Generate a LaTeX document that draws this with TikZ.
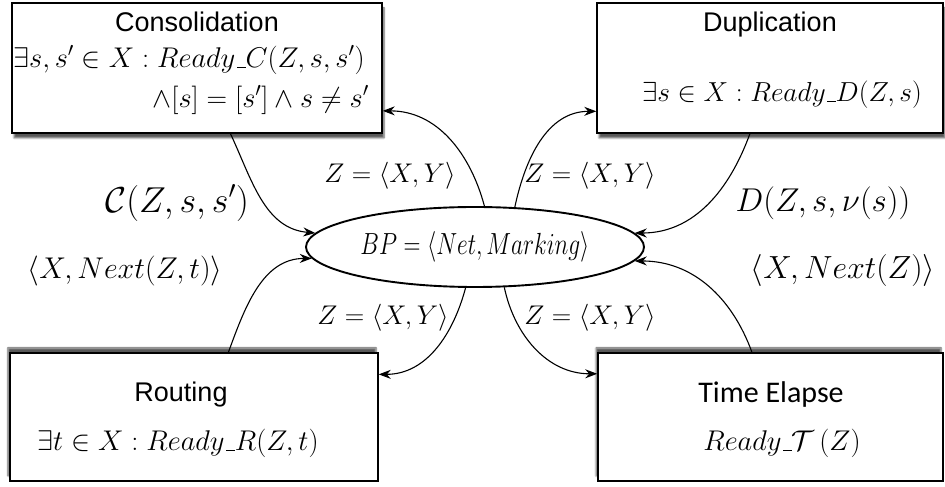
\RequirePackage{fix-cm}
\documentclass[tikz,border=0pt]{standalone}
\usepackage{graphicx}
\usepackage{fontspec}
\usepackage{amssymb}
\newfontfamily\helv{Liberation Sans}
\newfontfamily\carl{Carlito}
\newcommand{\uscore}{\kern.06em\vbox{\hrule width.3em}}
\usetikzlibrary{arrows.meta,shapes.geometric,shadows.blur}
\tikzset{
 box/.style={draw, line width=1.5pt, fill=white, inner sep=0pt},
 topshadow/.style={blur shadow={shadow xshift=2pt, shadow yshift=-5pt, shadow blur steps=6, shadow opacity=65}},
 botshadow/.style={blur shadow={shadow xshift=-2pt, shadow yshift=5pt, shadow blur steps=6, shadow opacity=65}},
 title/.style={font=\helv\fontsize{27}{32}\selectfont, inner sep=0pt},
 cond/.style={font=\fontsize{28.5}{34}\selectfont, inner sep=0pt},
 biglab/.style={inner sep=0pt},
 zlab/.style={font=\fontsize{27}{32}\selectfont, inner sep=0pt},
 conn/.style={line width=1.1pt, -{Stealth[length=12pt,width=9pt]}},
}
\begin{document}
\begin{tikzpicture}[x=1pt,y=1pt]
\useasboundingbox (0,0) rectangle (945,487);
% boxes
\node[box, topshadow, minimum width=370pt, minimum height=130pt] (cons) at (197,419) {};
\node[box, topshadow, minimum width=346pt, minimum height=130pt] (dup) at (770,419) {};
\node[box, botshadow, minimum width=368pt, minimum height=128pt] (rout) at (194,70) {};
\node[box, botshadow, minimum width=345pt, minimum height=128pt] (time) at (770.5,70) {};
% box texts
\node[title] (constitle) at (197,465) {Consolidation};
\node[cond] (consl1) at (189,427) {$\exists s, s' \in X : Ready\uscore C(Z,s,s')$};
\node[cond, anchor=east] (consl2) at (369,387) {$\wedge [s] = [s'] \wedge s \neq s'$};
\node[title] (duptitle) at (770,462) {Duplication};
\node[cond, font=\fontsize{27.5}{33}\selectfont] (dupl1) at (782,392) {$\exists s \in X : Ready\uscore D(Z,s)$};
\node[title] (routtitle) at (181,92) {Routing};
\node[cond] (routl1) at (178,44) {$\exists t \in X : Ready\uscore R(Z,t)$};
\node[font=\carl\fontsize{30}{36}\selectfont, inner sep=0pt] (timetitle) at (771,92) {Time Elapse};
\node[cond] (timel1) at (782,44) {$Ready\uscore\mathcal{T}\,(Z)$};
% center
\node[ellipse, draw, line width=1.9pt, minimum width=338pt, minimum height=80pt, inner sep=0pt, font=\fontsize{23.5}{28}\selectfont] (bp) at (475,240) {\scalebox{1}[1.3]{$BP = \langle Net, Marking\rangle$}};
% connectors
\draw[conn] (cons.-63) to[out=-65,in=175] (bp.175);
\draw[conn] (bp.77) to[out=105,in=0] (cons.-13);
\draw[conn] (bp.45) to[out=78,in=180] (dup.194);
\draw[conn] (dup.253) to[out=-110,in=0] (bp.5);
\draw[conn] (rout.62) to[out=70,in=180] (bp.184);
\draw[conn] (bp.257) to[out=-105,in=0] (rout.13);
\draw[conn] (bp.306) to[out=-78,in=180] (time.166);
\draw[conn] (time.106) to[out=110,in=0] (bp.355);
% labels
\node[biglab, font=\fontsize{36}{42}\selectfont] (lc) at (177,284) {$\mathcal{C}(Z,s,s')$};
\node[zlab] (lz1) at (390,311) {$Z = \langle X,Y\rangle$};
\node[zlab] (lz2) at (590,311) {$Z = \langle X,Y\rangle$};
\node[biglab, font=\fontsize{33}{40}\selectfont] (ld) at (823,284) {$D(Z,s,\nu(s))$};
\node[biglab, font=\fontsize{30}{36}\selectfont] (lr) at (125,216) {$\langle X,Next(Z,t)\rangle$};
\node[zlab] (lz3) at (383,169) {$Z = \langle X,Y\rangle$};
\node[zlab] (lz4) at (590,169) {$Z = \langle X,Y\rangle$};
\node[biglab, font=\fontsize{32}{38}\selectfont] (lt) at (843,216) {$\langle X,Next(Z)\rangle$};
\end{tikzpicture}
\end{document}
